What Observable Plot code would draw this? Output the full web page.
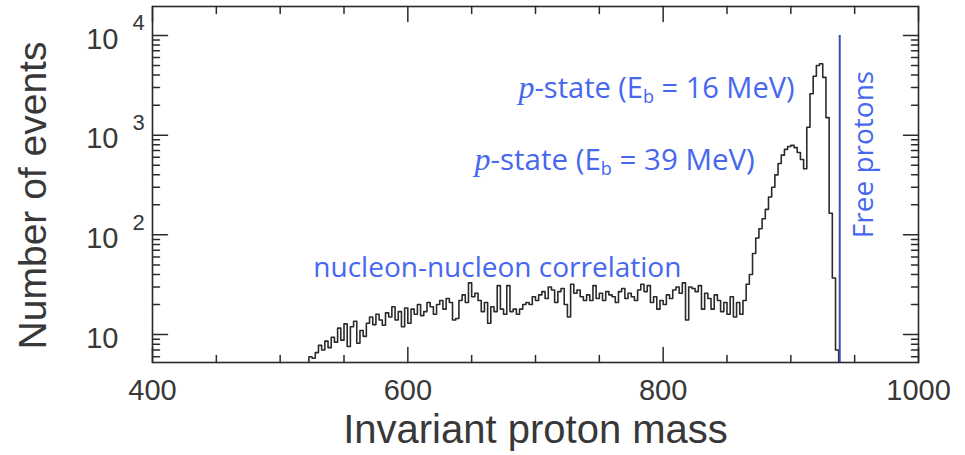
<!DOCTYPE html>
<html>
<head>
<meta charset="utf-8">
<script src="https://cdn.jsdelivr.net/npm/d3@7"></script>
<script src="https://cdn.jsdelivr.net/npm/@observablehq/plot@0.6"></script>
<style>
  html, body { margin: 0; padding: 0; background: #fff; }
  #chart svg { display: block; }
</style>
</head>
<body>
<div id="chart"></div>
<script>
// ---- Data ----
const binWidth = 2.5;           // MeV
const firstBin = 515;           // lower edge of first bin
const counts = [
  2, 3, 4, 6, 5.8, 6.6, 7.8, 7, 8.6, 7.4,
  9.4, 8.4, 11.6, 8.8, 12.8, 7.6, 12, 13.6, 8.2, 11,
  9.6, 13, 15, 12.6, 16, 14, 12.4, 16.5, 15, 19,
  14, 17, 12, 18.5, 13, 18, 16, 20, 15.5, 17,
  21, 19, 16, 20, 22, 18, 23, 21, 14, 14.5,
  22, 25, 21, 33, 24, 26, 22, 17, 21, 13,
  19, 17, 31, 18, 16, 31, 17, 18, 16, 18,
  20, 21, 20, 24, 22, 25, 27, 23, 30, 28,
  21, 27, 29, 20, 15, 32, 26, 28, 24, 22,
  25, 22, 31, 23, 26, 22, 27, 25, 24, 21,
  27, 29, 23, 26, 24, 22, 28, 32, 27, 31,
  21, 24, 18, 22, 20, 25, 23, 28, 30, 26,
  33, 14, 30, 29, 27, 31, 18, 26, 23, 18,
  25, 22, 17, 21, 16, 24, 15, 21, 16, 22,
  32, 40, 65, 93, 115, 145, 180, 240, 300, 400,
  520, 630, 720, 770, 790, 750, 670, 570, 460, 1200,
  2600, 3900, 5000, 5200, 3800, 1500, 165, 37, 7, 2
];
const freeProtonMass = 938.3;
const freeProtonLineTop = 10000;

const xMajorTicks = [400, 600, 800, 1000];
const xMinorTicks = [450, 500, 550, 650, 700, 750, 850, 900, 950];
const yDecades = [10, 100, 1000, 10000];
const yExponents = ["", "2", "3", "4"];
const yMinorTicks = [6, 7, 8, 9, 20, 30, 40, 50, 60, 70, 80, 90,
  200, 300, 400, 500, 600, 700, 800, 900,
  2000, 3000, 4000, 5000, 6000, 7000, 8000, 9000];

const xDomain = [400, 1000];
const yDomain = [5.25, 19500];

const xTitle = "Invariant proton mass";
const yTitle = "Number of events";
const labelNN = "nucleon-nucleon correlation";
const labelP16 = "p-state (Eb = 16 MeV)";
const labelP39 = "p-state (Eb = 39 MeV)";
const labelFree = "Free protons";

// ---- Derived table ----
const hist = counts.map((c, i) => ({mass: firstBin + i * binWidth, count: c}));
hist.push({mass: firstBin + counts.length * binWidth, count: counts[counts.length - 1]});

// ---- Styles ----
const ink = "#2a2a2a";
const labelInk = "#383838";
const blue = "#4667ee";
const lineBlue = "#3b4fb3";
const annFont = "'Open Sans', sans-serif";
const tickShape = {draw(context, l) { context.moveTo(0, 0); context.lineTo(0, -l); }};
const tickStyle = {anchor: "start", shape: tickShape, stroke: ink, strokeWidth: 1.5};

const chart = Plot.plot({
  width: 965,
  height: 455,
  marginLeft: 152,
  marginRight: 47,
  marginTop: 6,
  marginBottom: 93,
  style: {fontFamily: "'Liberation Sans', Arial, sans-serif", background: "#fff"},
  x: {domain: xDomain, axis: null},
  y: {type: "log", domain: yDomain, axis: null},
  marks: [
    // histogram outline
    Plot.line(hist, {x: "mass", y: "count", curve: "step-after", stroke: ink, strokeWidth: 1.6, clip: true}),
    // free proton line
    Plot.ruleX([freeProtonMass], {x: d => d, y1: yDomain[0], y2: freeProtonLineTop, stroke: lineBlue, strokeWidth: 2}),
    // frame
    Plot.frame({stroke: ink, strokeWidth: 1.6}),
    // x ticks (inward) bottom and top
    Plot.vectorX(xMajorTicks, {x: d => d, frameAnchor: "bottom", rotate: 0, length: 15, ...tickStyle}),
    Plot.vectorX(xMinorTicks, {x: d => d, frameAnchor: "bottom", rotate: 0, length: 7, ...tickStyle}),
    Plot.vectorX(xMajorTicks, {x: d => d, frameAnchor: "top", rotate: 180, length: 15, ...tickStyle}),
    Plot.vectorX(xMinorTicks, {x: d => d, frameAnchor: "top", rotate: 180, length: 7, ...tickStyle}),
    // y ticks (inward) left and right
    Plot.vectorY(yDecades, {y: d => d, frameAnchor: "left", rotate: 90, length: 15, ...tickStyle}),
    Plot.vectorY(yMinorTicks, {y: d => d, frameAnchor: "left", rotate: 90, length: 7, ...tickStyle}),
    Plot.vectorY(yDecades, {y: d => d, frameAnchor: "right", rotate: -90, length: 15, ...tickStyle}),
    Plot.vectorY(yMinorTicks, {y: d => d, frameAnchor: "right", rotate: -90, length: 7, ...tickStyle}),
    // y tick labels: 10 with superscript exponent
    Plot.text(yDecades, {y: d => d, frameAnchor: "left", text: () => "10", textAnchor: "end", lineAnchor: "middle", dx: -34, dy: 4, fontSize: 29, fill: labelInk}),
    Plot.text(yDecades, {y: d => d, frameAnchor: "left", text: (d, i) => yExponents[i], textAnchor: "start", lineAnchor: "middle", dx: -20, dy: -12, fontSize: 22, fill: labelInk}),
    // x tick labels
    Plot.text(xMajorTicks, {x: d => d, frameAnchor: "bottom", text: d => String(d), textAnchor: "middle", lineAnchor: "middle", dy: 28, fontSize: 29, fill: labelInk}),
    // axis titles
    Plot.text([xTitle], {frameAnchor: "bottom", text: d => d, textAnchor: "middle", lineAnchor: "middle", dy: 68, fontSize: 40, fill: labelInk}),
    Plot.text([yTitle], {frameAnchor: "left", text: d => d, rotate: -90, textAnchor: "middle", lineAnchor: "middle", dx: -119, dy: 11, fontSize: 39, fill: labelInk}),
    // annotations
    Plot.text([labelNN], {x: 526, y: 46, text: d => d, textAnchor: "start", lineAnchor: "middle", fontSize: 28, fill: blue, fontFamily: annFont}),
    Plot.text([labelP16], {x: 794.8, y: 2900, text: d => d, textAnchor: "middle", lineAnchor: "middle", fontSize: 29, fill: blue, fontFamily: annFont}),
    Plot.text([labelP39], {x: 762, y: 555, text: d => d, textAnchor: "middle", lineAnchor: "middle", fontSize: 29.5, fill: blue, fontFamily: annFont}),
    Plot.text([labelFree], {x: 957.7, y: 640, text: d => d, rotate: -90, textAnchor: "middle", lineAnchor: "middle", fontSize: 28, fill: blue, fontFamily: annFont})
  ]
});

// rich text for p-state labels: italic serif p, subscript b
d3.select(chart).selectAll("text").each(function() {
  const t = this.textContent;
  const m = /^p-state \(Eb = (.*)$/.exec(t);
  if (!m) return;
  const sel = d3.select(this);
  sel.text(null);
  sel.append("tspan").attr("font-family", "'Liberation Serif', serif").attr("font-style", "italic").attr("font-size", 32).text("p");
  sel.append("tspan").text("-state (E");
  sel.append("tspan").attr("font-size", 18).attr("dy", 5).text("b");
  sel.append("tspan").attr("dy", -5).text(" = " + m[1]);
});

document.getElementById("chart").appendChild(chart);
</script>
</body>
</html>
